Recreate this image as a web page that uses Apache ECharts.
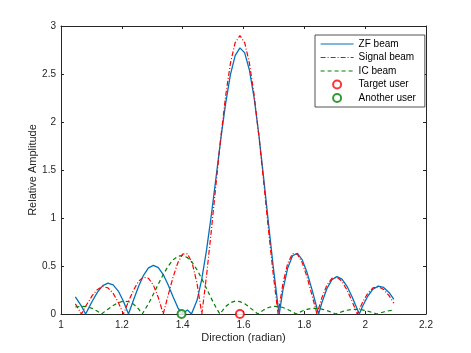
<!DOCTYPE html>
<html>
<head>
<meta charset="utf-8">
<script src="https://cdn.jsdelivr.net/npm/echarts@6/dist/echarts.min.js"></script>
<style>
  html, body { margin: 0; padding: 0; background: #fff; }
  #chart { width: 471px; height: 353px; }
</style>
</head>
<body>
<div id="chart"></div>
<script>
// direction grid (radian) and amplitudes
const dirs = [1.0472, 1.0672, 1.0850, 1.1026, 1.1200, 1.1373, 1.1544, 1.1715, 1.1884, 1.2052,
  1.2218, 1.2384, 1.2549, 1.2713, 1.2876, 1.3038, 1.3200, 1.3361, 1.3521, 1.3681,
  1.3840, 1.3999, 1.4158, 1.4316, 1.4473, 1.4630, 1.4787, 1.4944, 1.5101, 1.5257,
  1.5414, 1.5570, 1.5726, 1.5883, 1.6039, 1.6195, 1.6352, 1.6508, 1.6665, 1.6822,
  1.6980, 1.7137, 1.7295, 1.7454, 1.7613, 1.7772, 1.7932, 1.8093, 1.8254, 1.8416,
  1.8578, 1.8741, 1.8905, 1.9071, 1.9237, 1.9404, 1.9572, 1.9741, 1.9911, 2.0083,
  2.0256, 2.0431, 2.0607, 2.0785, 2.0944];

const zfAmp = [0.179, 0.082, 0.025, 0.133, 0.228, 0.295, 0.322, 0.304, 0.239, 0.133,
  0.000, 0.146, 0.287, 0.403, 0.480, 0.507, 0.483, 0.411, 0.305, 0.182,
  0.067, 0.015, 0.041, 0.008, 0.143, 0.367, 0.670, 1.034, 1.432, 1.832,
  2.197, 2.494, 2.692, 2.772, 2.720, 2.541, 2.245, 1.858, 1.411, 0.941,
  0.486, 0.080, 0.249, 0.480, 0.607, 0.631, 0.564, 0.429, 0.252, 0.060,
  0.120, 0.264, 0.356, 0.389, 0.364, 0.289, 0.178, 0.049, 0.078, 0.185,
  0.258, 0.290, 0.277, 0.225, 0.153];

const signalAmp = [0.106, 0.000, 0.101, 0.191, 0.256, 0.286, 0.272, 0.215, 0.120, 0.000,
  0.130, 0.249, 0.340, 0.385, 0.372, 0.300, 0.171, 0.000, 0.193, 0.380,
  0.534, 0.624, 0.628, 0.528, 0.317, 0.000, 0.406, 0.874, 1.368, 1.849,
  2.276, 2.612, 2.826, 2.900, 2.826, 2.612, 2.276, 1.849, 1.368, 0.874,
  0.406, 0.000, 0.317, 0.528, 0.628, 0.624, 0.534, 0.380, 0.193, 0.000,
  0.171, 0.300, 0.372, 0.385, 0.340, 0.249, 0.130, 0.000, 0.120, 0.215,
  0.272, 0.286, 0.256, 0.191, 0.112];

const icAmp = [0.073, 0.081, 0.076, 0.058, 0.028, 0.009, 0.050, 0.088, 0.118, 0.133,
  0.129, 0.103, 0.053, 0.018, 0.107, 0.208, 0.312, 0.411, 0.497, 0.563,
  0.601, 0.610, 0.587, 0.536, 0.460, 0.367, 0.264, 0.160, 0.064, 0.017,
  0.079, 0.118, 0.134, 0.129, 0.106, 0.071, 0.031, 0.009, 0.043, 0.068,
  0.080, 0.080, 0.068, 0.047, 0.021, 0.006, 0.031, 0.049, 0.059, 0.059,
  0.051, 0.036, 0.016, 0.005, 0.024, 0.039, 0.048, 0.049, 0.043, 0.030,
  0.014, 0.004, 0.021, 0.034, 0.041];

// directions where a beam touches zero between grid points
const zfNulls = [1.0809, 1.3971, 1.4289, 1.7176, 1.8469, 1.9807];
const icNulls = [1.1331, 1.2671, 1.5224, 1.6474, 1.7736, 1.9033, 2.0391];

const targetUser = [1.5882, 0];
const anotherUser = [1.3963, 0];

const xTicks = { min: 1, max: 2.2, step: 0.2 };
const yTicks = { min: 0, max: 3, step: 0.5 };

const FONT = 'Liberation Sans, Arial, Helvetica, sans-serif';
const AXIS = '#262626';
const BLUE = '#0072BD', RED = '#ff0000', GREEN = '#008000';
const DASHDOT = [5, 2, 1, 2], DASHED = [4, 3];

function toPoints(amp, nulls) {
  const pts = dirs.map((d, i) => [d, amp[i]]);
  (nulls || []).forEach(n => pts.push([n, 0]));
  return pts.sort((a, b) => a[0] - b[0]);
}

const chart = echarts.init(document.getElementById('chart'));

const baseAxis = {
  type: 'value',
  axisLine: { show: true, onZero: false, lineStyle: { color: AXIS, width: 1 } },
  axisTick: { show: true, inside: true, length: 3, lineStyle: { color: AXIS } },
  splitLine: { show: false }
};

// line entries in the legend: plain line sample, no marker
const lineEntry = (name, color, type) => ({
  name: name,
  itemStyle: { opacity: 0 },
  lineStyle: { color: color, width: 1.2, type: type, opacity: 1 }
});

chart.setOption({
  animation: false,
  backgroundColor: '#fff',
  grid: { left: 61, right: 45, top: 26, bottom: 39, containLabel: false },
  xAxis: [
    Object.assign({}, baseAxis, {
      min: xTicks.min, max: xTicks.max, interval: xTicks.step,
      name: 'Direction (radian)', nameLocation: 'middle', nameGap: 18, nameMoveOverlap: false,
      nameTextStyle: { fontFamily: FONT, fontSize: 11, color: AXIS },
      axisLabel: { fontFamily: FONT, fontSize: 10, color: AXIS, margin: 6 }
    }),
    Object.assign({}, baseAxis, {
      position: 'top', min: xTicks.min, max: xTicks.max, interval: xTicks.step,
      axisLabel: { show: false }
    })
  ],
  yAxis: [
    Object.assign({}, baseAxis, {
      min: yTicks.min, max: yTicks.max, interval: yTicks.step,
      name: 'Relative Amplitude', nameLocation: 'middle', nameGap: 23, nameMoveOverlap: false,
      nameTextStyle: { fontFamily: FONT, fontSize: 11, color: AXIS },
      axisLabel: { fontFamily: FONT, fontSize: 10, color: AXIS, margin: 5 }
    }),
    Object.assign({}, baseAxis, {
      position: 'right', min: yTicks.min, max: yTicks.max, interval: yTicks.step,
      axisLabel: { show: false }
    })
  ],
  legend: {
    orient: 'vertical',
    left: 315, top: 35,
    padding: [4, 9, 4, 5],
    itemGap: 3.5,
    itemWidth: 33,
    itemHeight: 8,
    backgroundColor: '#fff',
    borderColor: AXIS,
    borderWidth: 0.8,
    borderRadius: 0,
    textStyle: { fontFamily: FONT, fontSize: 10, color: '#000' },
    data: [
      lineEntry('ZF beam', BLUE, 'solid'),
      lineEntry('Signal beam', RED, DASHDOT),
      lineEntry('IC beam', GREEN, DASHED),
      { name: 'Target user', itemStyle: { color: '#fff', borderColor: RED, borderWidth: 2 } },
      { name: 'Another user', itemStyle: { color: '#fff', borderColor: GREEN, borderWidth: 2 } }
    ]
  },
  series: [
    {
      name: 'ZF beam', type: 'line', data: toPoints(zfAmp, zfNulls),
      showSymbol: false, symbol: 'none', clip: false,
      lineStyle: { color: BLUE, width: 1.3 }, itemStyle: { color: BLUE }
    },
    {
      name: 'Signal beam', type: 'line', data: toPoints(signalAmp),
      showSymbol: false, symbol: 'none', clip: false,
      lineStyle: { color: RED, width: 1.2, type: DASHDOT }, itemStyle: { color: RED }
    },
    {
      name: 'IC beam', type: 'line', data: toPoints(icAmp, icNulls),
      showSymbol: false, symbol: 'none', clip: false,
      lineStyle: { color: GREEN, width: 1.2, type: DASHED }, itemStyle: { color: GREEN }
    },
    {
      name: 'Target user', type: 'scatter', data: [targetUser], clip: false, z: 5,
      symbol: 'circle', symbolSize: 8,
      itemStyle: { color: '#fff', borderColor: RED, borderWidth: 2 }
    },
    {
      name: 'Another user', type: 'scatter', data: [anotherUser], clip: false, z: 5,
      symbol: 'circle', symbolSize: 8,
      itemStyle: { color: '#fff', borderColor: GREEN, borderWidth: 2 }
    }
  ]
});
</script>
</body>
</html>
